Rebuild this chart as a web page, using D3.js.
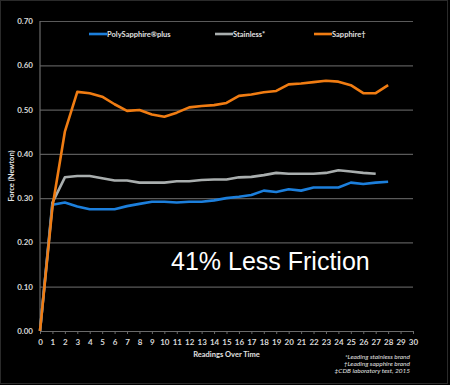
<!DOCTYPE html>
<html>
<head>
<meta charset="utf-8">
<script src="https://cdn.jsdelivr.net/npm/d3@7"></script>
<style>
  html, body { margin: 0; padding: 0; background: #000; }
  svg { display: block; }
</style>
</head>
<body>
<svg class="chart"></svg>
<script>
const readings = d3.range(0, 29);
const polySapphire = [0, 0.285, 0.29, 0.281, 0.275, 0.275, 0.275, 0.282, 0.287, 0.292, 0.292, 0.29, 0.292, 0.292, 0.295, 0.30,
  0.303, 0.307, 0.317, 0.314, 0.32, 0.317, 0.324, 0.324, 0.324, 0.335, 0.332, 0.335, 0.337];
const stainless = [0, 0.29, 0.347, 0.35, 0.35, 0.345, 0.34, 0.34, 0.335, 0.335, 0.335, 0.338, 0.338, 0.341, 0.342, 0.342,
  0.347, 0.348, 0.352, 0.357, 0.355, 0.355, 0.355, 0.357, 0.363, 0.36, 0.357, 0.355];
const sapphire = [0, 0.28, 0.45, 0.54, 0.537, 0.529, 0.512, 0.497, 0.499, 0.489, 0.484, 0.493, 0.505, 0.508, 0.51, 0.515,
  0.531, 0.534, 0.539, 0.542, 0.557, 0.559, 0.562, 0.565, 0.563, 0.555, 0.537, 0.537, 0.555];
const seriesNames = ["PolySapphire®plus", "Stainless*", "Sapphire†"];
const seriesColors = ["#1c7fdc", "#a9aeae", "#f07c12"];
const yTicks = [0, 0.1, 0.2, 0.3, 0.4, 0.5, 0.6, 0.7];
const footnotes = ["*Leading stainless brand", "†Leading sapphire brand", "‡CDB laboratory test, 2015"];

const width = 450;
const height = 385;
const marginTop = 21;
const marginRight = 37;
const marginBottom = 54;
const marginLeft = 40;

const x = d3.scaleLinear()
  .domain([0, 30])
  .range([marginLeft, width - marginRight]);

const y = d3.scaleLinear()
  .domain([0, 0.7])
  .range([height - marginBottom, marginTop]);

const svg = d3.select("svg.chart")
  .attr("width", width)
  .attr("height", height)
  .attr("viewBox", `0 0 ${width} ${height}`)
  .style("background", "#000");

// faint frame
svg.append("rect")
  .attr("x", 0.5).attr("y", 0.5)
  .attr("width", width - 3).attr("height", height - 2)
  .attr("fill", "none")
  .attr("stroke", "#2a2a2a");

// gridlines + y axis
svg.append("g")
  .attr("transform", `translate(${marginLeft},0)`)
  .call(d3.axisLeft(y).tickValues(yTicks).tickFormat(d3.format(".2f"))
    .tickSize(-(width - marginLeft - marginRight)).tickPadding(7))
  .call(g => g.select(".domain").remove())
  .call(g => g.selectAll(".tick line").attr("stroke", "#5a5a5a").attr("stroke-width", 1.2))
  .call(g => g.selectAll(".tick text")
    .attr("fill", "#d8d8d8")
    .style("font", "bold 8px Lato, 'Open Sans', sans-serif"));

svg.append("line")
  .attr("x1", marginLeft).attr("x2", marginLeft)
  .attr("y1", y(0.7)).attr("y2", y(0))
  .attr("stroke", "#6a6a6a").attr("stroke-width", 1.2);

// x axis
svg.append("g")
  .attr("transform", `translate(0,${y(0)})`)
  .call(d3.axisBottom(x).ticks(30).tickSize(3).tickPadding(5).tickSizeOuter(0))
  .call(g => g.select(".domain").attr("stroke", "#6a6a6a"))
  .call(g => g.selectAll(".tick line").attr("stroke", "#6a6a6a"))
  .call(g => g.selectAll(".tick text")
    .attr("fill", "#d8d8d8")
    .style("font", "bold 8px Lato, 'Open Sans', sans-serif"));

// lines
const line = d3.line()
  .x((d, i) => x(readings[i]))
  .y(d => y(d));

const allSeries = [polySapphire, stainless, sapphire];
svg.append("g")
  .attr("fill", "none")
  .attr("stroke-width", 2.6)
  .attr("stroke-linejoin", "round")
  .selectAll("path")
  .data([1, 0, 2])
  .join("path")
  .attr("stroke", i => seriesColors[i])
  .attr("d", i => line(allSeries[i]));

// legend
const legendX = [89, 215, 314];
const legend = svg.append("g")
  .selectAll("g")
  .data(seriesNames)
  .join("g")
  .attr("transform", (d, i) => `translate(${legendX[i]},34)`);

legend.append("line")
  .attr("x1", 0).attr("x2", 18)
  .attr("stroke", (d, i) => seriesColors[i])
  .attr("stroke-width", 2.6);

legend.append("text")
  .attr("x", 18)
  .attr("dy", "0.35em")
  .attr("fill", "#e0e0e0")
  .style("font", "bold 7.5px Lato, 'Open Sans', sans-serif")
  .text(d => d);

// axis titles
svg.append("text")
  .attr("transform", `translate(11,${(y(0) + y(0.7)) / 2}) rotate(-90)`)
  .attr("text-anchor", "middle")
  .attr("dy", "0.35em")
  .attr("fill", "#e0e0e0")
  .style("font", "bold 7.5px Lato, 'Open Sans', sans-serif")
  .text("Force (Newton)");

svg.append("text")
  .attr("x", (x(0) + x(30)) / 2)
  .attr("y", 357)
  .attr("text-anchor", "middle")
  .attr("fill", "#e0e0e0")
  .style("font", "bold 7.5px Lato, 'Open Sans', sans-serif")
  .text("Readings Over Time");

// callout
svg.append("text")
  .attr("x", 171)
  .attr("y", 270)
  .attr("fill", "#fff")
  .style("font", "25px 'Liberation Sans', Arial, sans-serif")
  .text("41% Less Friction");

// footnotes
svg.append("g")
  .attr("text-anchor", "end")
  .attr("fill", "#e0e0e0")
  .style("font", "italic 6.5px Lato, 'Open Sans', sans-serif")
  .selectAll("text")
  .data(footnotes)
  .join("text")
  .attr("x", 410)
  .attr("y", (d, i) => 359 + i * 7.2)
  .text(d => d);
</script>
</body>
</html>
